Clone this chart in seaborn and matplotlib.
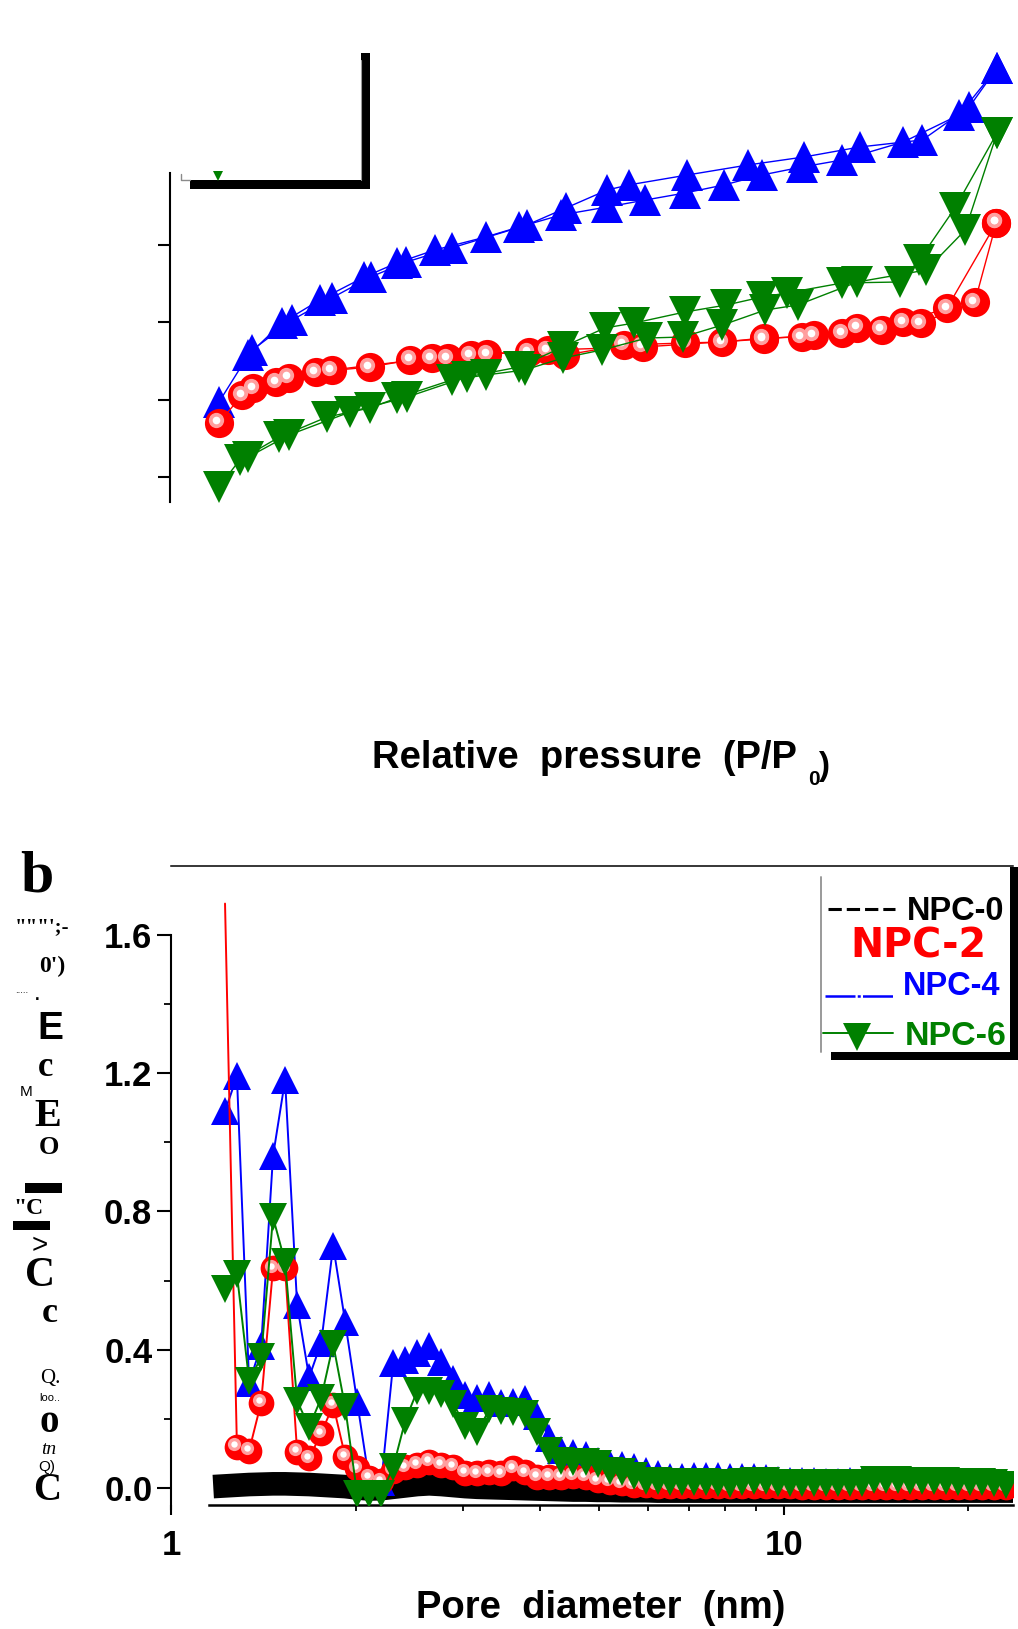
import matplotlib
matplotlib.use("Agg")
import matplotlib.pyplot as plt
import seaborn as sns
from matplotlib.lines import Line2D
from matplotlib.patches import Rectangle
from matplotlib.transforms import ScaledTranslation
from matplotlib.ticker import NullFormatter

# ---------------- Panel a : N2 sorption isotherms (relative pressure, volume) ----------------
p_npc4_ads = [0.010, 0.047, 0.089, 0.137, 0.193, 0.234, 0.282, 0.346, 0.388, 0.441,
              0.499, 0.547, 0.597, 0.646, 0.694, 0.744, 0.795, 0.872, 0.942, 0.990]
v_npc4_ads = [197.0, 257.8, 299.2, 329.0, 358.7, 376.9, 393.7, 410.5, 423.4, 439.0,
              449.3, 458.3, 467.4, 477.8, 490.7, 501.0, 510.1, 533.4, 568.3, 629.1]
p_npc4_des = [0.990, 0.955, 0.896, 0.817, 0.747, 0.676, 0.600, 0.526, 0.499, 0.447,
              0.398, 0.303, 0.246, 0.201, 0.152, 0.102, 0.052]
v_npc4_des = [629.1, 578.7, 536.0, 526.9, 514.0, 503.6, 490.7, 477.8, 471.3, 448.0,
              426.0, 396.3, 378.1, 358.7, 331.6, 303.1, 264.3]

p_npc2_ads = [0.010, 0.039, 0.082, 0.132, 0.200, 0.251, 0.298, 0.348, 0.400, 0.446,
              0.520, 0.597, 0.644, 0.696, 0.744, 0.795, 0.845, 0.894, 0.962, 0.989]
v_npc2_ads = [169.9, 206.1, 222.9, 235.8, 242.3, 251.4, 253.9, 259.1, 261.7, 257.8,
              270.8, 273.4, 274.6, 279.8, 281.1, 286.3, 290.2, 299.2, 326.4, 428.6]
p_npc2_des = [0.989, 0.927, 0.872, 0.814, 0.759, 0.696, 0.544, 0.424, 0.327, 0.278,
              0.152, 0.098, 0.053]
v_npc2_des = [428.6, 318.6, 300.5, 292.8, 283.7, 278.5, 268.2, 264.3, 257.8, 253.9,
              238.4, 228.1, 215.1]

p_npc6_ads = [0.010, 0.036, 0.086, 0.146, 0.200, 0.234, 0.303, 0.346, 0.395, 0.443,
              0.492, 0.549, 0.594, 0.644, 0.698, 0.739, 0.814, 0.901, 0.950, 0.990]
v_npc6_ads = [87.1, 122.0, 151.7, 177.6, 189.3, 202.2, 225.5, 232.0, 238.4, 253.9,
              264.3, 279.8, 281.1, 296.6, 316.0, 322.5, 352.3, 367.8, 419.5, 545.0]
p_npc6_des = [0.990, 0.937, 0.892, 0.868, 0.795, 0.725, 0.694, 0.649, 0.597, 0.533,
              0.496, 0.443, 0.388, 0.322, 0.247, 0.175, 0.098, 0.047]
v_npc6_des = [545.0, 448.0, 380.7, 352.3, 351.0, 338.0, 332.9, 322.5, 313.5, 299.2,
              292.8, 268.2, 242.3, 229.4, 203.5, 184.1, 154.3, 125.9]

iso_yticks = [100, 200, 300, 400]

# ---------------- Panel b : pore size distribution ----------------
pore_d = [1.225, 1.281, 1.341, 1.403, 1.467, 1.535, 1.606, 1.680, 1.758, 1.839,
          1.924, 2.012, 2.106, 2.203, 2.304, 2.411, 2.522, 2.638, 2.760, 2.888,
          3.021, 3.161, 3.306, 3.459, 3.619, 3.786, 3.961, 4.143, 4.335, 4.535,
          4.745, 4.964, 5.193, 5.433, 5.684, 5.947, 6.221, 6.509, 6.809, 7.124,
          7.453, 7.797, 8.157, 8.534, 8.928, 9.335, 9.766, 10.22, 10.69, 11.18,
          11.70, 12.24, 12.80, 13.40, 14.01, 14.66, 15.34, 16.05, 16.79, 17.56,
          18.37, 19.22, 20.11, 21.03, 22.00, 23.02]

psd_npc0 = [0.006, 0.008, 0.010, 0.011, 0.012, 0.012, 0.011, 0.010, 0.008, 0.006,
            0.004, 0.000, -0.003, -0.002, 0.002, 0.006, 0.010, 0.012, 0.010, 0.007,
            0.004, 0.002, 0.001, 0.000, -0.001, -0.002, -0.003, -0.004, -0.005, -0.006,
            -0.006, -0.007, -0.007, -0.008, -0.008, -0.008, -0.009, -0.009, -0.009, -0.009,
            -0.009, -0.009, -0.009, -0.009, -0.009, -0.009, -0.009, -0.009, -0.009, -0.009,
            -0.009, -0.009, -0.009, -0.009, -0.009, -0.009, -0.009, -0.009, -0.009, -0.009,
            -0.009, -0.009, -0.009, -0.009, -0.009, -0.009]

psd_npc2 = [1.690, 0.119, 0.108, 0.247, 0.635, 0.635, 0.105, 0.086, 0.158, 0.240,
            0.091, 0.057, 0.030, 0.020, 0.050, 0.060, 0.067, 0.076, 0.067, 0.062,
            0.044, 0.043, 0.046, 0.043, 0.057, 0.046, 0.033, 0.033, 0.033, 0.035,
            0.033, 0.023, 0.018, 0.014, 0.009, 0.008, 0.007, 0.007, 0.006, 0.006,
            0.006, 0.006, 0.005, 0.005, 0.005, 0.005, 0.005, 0.005, 0.004, 0.004,
            0.004, 0.004, 0.004, 0.004, 0.004, 0.004, 0.004, 0.003, 0.003, 0.003,
            0.003, 0.003, 0.003, 0.003, 0.003, 0.003]

psd_npc4 = [1.090, 1.190, 0.305, 0.410, 0.960, 1.180, 0.530, 0.320, 0.420, 0.700,
            0.480, 0.250, 0.020, 0.016, 0.360, 0.370, 0.390, 0.410, 0.364, 0.315,
            0.270, 0.260, 0.270, 0.246, 0.250, 0.257, 0.208, 0.145, 0.110, 0.100,
            0.095, 0.079, 0.069, 0.066, 0.061, 0.050, 0.040, 0.032, 0.031, 0.036,
            0.036, 0.036, 0.031, 0.031, 0.031, 0.029, 0.024, 0.021, 0.021, 0.019,
            0.016, 0.016, 0.021, 0.021, 0.015, 0.015, 0.014, 0.015, 0.015, 0.014,
            0.014, 0.013, 0.013, 0.012, 0.012, 0.012]

psd_npc6 = [0.575, 0.619, 0.310, 0.378, 0.783, 0.653, 0.252, 0.176, 0.260, 0.416,
            0.233, -0.017, -0.017, -0.017, 0.060, 0.195, 0.281, 0.281, 0.272, 0.243,
            0.180, 0.161, 0.228, 0.224, 0.219, 0.214, 0.161, 0.108, 0.079, 0.074,
            0.074, 0.069, 0.050, 0.045, 0.036, 0.021, 0.021, 0.016, 0.016, 0.016,
            0.016, 0.014, 0.012, 0.018, 0.020, 0.020, 0.014, 0.014, 0.014, 0.014,
            0.013, 0.013, 0.014, 0.014, 0.022, 0.022, 0.022, 0.021, 0.021, 0.020,
            0.019, 0.018, 0.017, 0.016, 0.015, 0.010]

psd_xticks = [1, 10]
psd_xticklabels = ["1", "10"]
psd_xminor = [2, 3, 4, 5, 6, 7, 8, 9, 20]
psd_yticks = [0.0, 0.4, 0.8, 1.2, 1.6]
psd_yticklabels = ["0.0", "0.4", "0.8", "1.2", "1.6"]
psd_yminor = [0.2, 0.6, 1.0, 1.4]

legend_labels = ["NPC-0", "NPC-2", "NPC-4", "NPC-6"]

# garbled vertical y-label fragments of panel b, as they appear
ylabel_bits = ['"""\';-', "0')", ".....", ".", "E", "c", "M", "E", "O", '"C', ">",
               "C", "c", "Q.", "loo..", "o", "tn", "Q)", "C"]

# ---------------- styling ----------------
sns.set_theme(style="white")
plt.rcParams["font.family"] = ["Liberation Sans", "DejaVu Sans"]
plt.rcParams["axes.unicode_minus"] = False
plt.rcParams["text.color"] = "black"
plt.rcParams["xtick.color"] = "black"
plt.rcParams["ytick.color"] = "black"
plt.rcParams["axes.labelcolor"] = "black"

BLUE, RED, GREEN = "#0000ff", "#ff0000", "#008000"
SERIF = ["Liberation Serif", "DejaVu Serif"]
SANS = ["Liberation Sans", "DejaVu Sans"]

W, H = 1018, 1629
fig = plt.figure(figsize=(W / 100, H / 100), dpi=100)
fig.patch.set_facecolor("white")


def fx(px):
    return px / W


def fy(py):
    return 1 - py / H


def frect(x0, y0, x1, y1, z=10, **kw):
    r = Rectangle((fx(x0), fy(y1)), fx(x1) - fx(x0), fy(y0) - fy(y1),
                  transform=fig.transFigure, zorder=z, **kw)
    fig.add_artist(r)


def fline(xs, ys, z=10, **kw):
    fig.add_artist(Line2D([fx(v) for v in xs], [fy(v) for v in ys],
                          transform=fig.transFigure, zorder=z, **kw))


def highlight(ax, x, y, z, big=10.5, small=5.0):
    off = ScaledTranslation(-0.025, 0.025, fig.dpi_scale_trans)
    ax.plot(x, y, ls="none", marker="o", ms=big, color="#ff9f9f", mew=0,
            transform=ax.transData + off, zorder=z)
    ax.plot(x, y, ls="none", marker="o", ms=small, color="white", mew=0,
            transform=ax.transData + off, zorder=z + 0.01)


# ================= Panel a =================
ax1 = fig.add_axes([fx(170), fy(502), fx(1018) - fx(170), fy(40) - fy(502)])
ax1.set_facecolor("none")
ax1.set_xlim(-0.0517, 1.0164)
ax1.set_ylim(67.7, 665.3)

for P, V in [(p_npc4_ads, v_npc4_ads), (p_npc4_des, v_npc4_des)]:
    sns.lineplot(x=P, y=V, sort=False, estimator=None, color=BLUE, lw=1.0,
                 marker="^", markersize=22.5, markeredgewidth=0,
                 markeredgecolor=BLUE, ax=ax1, zorder=2)
for P, V in [(p_npc2_ads, v_npc2_ads), (p_npc2_des, v_npc2_des)]:
    sns.lineplot(x=P, y=V, sort=False, estimator=None, color=RED, lw=1.0,
                 marker="o", markersize=21, markeredgewidth=0,
                 markeredgecolor=RED, ax=ax1, zorder=3)
    highlight(ax1, P, V, 3.1, big=11, small=5.5)
for P, V in [(p_npc6_ads, v_npc6_ads), (p_npc6_des, v_npc6_des)]:
    sns.lineplot(x=P, y=V, sort=False, estimator=None, color=GREEN, lw=1.0,
                 marker="v", markersize=22.5, markeredgewidth=0,
                 markeredgecolor=GREEN, ax=ax1, zorder=4)

for s in ["top", "right", "bottom"]:
    ax1.spines[s].set_visible(False)
ax1.spines["left"].set_color("black")
ax1.spines["left"].set_linewidth(1.5)
ax1.spines["left"].set_bounds(67.7, 493)
ax1.set_xticks([])
ax1.set_yticks(iso_yticks)
ax1.set_yticklabels([])
ax1.tick_params(axis="y", left=True, direction="out", length=8.6, width=1.5,
                color="black")
ax1.set_xlabel("")
ax1.set_ylabel("")

# remnant of the shadowed legend box of panel a
frect(361, 53, 370, 189, color="black", lw=0)
frect(190, 180, 370, 189, color="black", lw=0)
fline([181, 181, 190], [174, 180, 180], color="#8a8a8a", lw=1.0)
fline([360.5, 360.5], [60, 180], color="#9a9a9a", lw=0.8)
fig.add_artist(Line2D([fx(218)], [fy(176)], ls="none", marker="v", ms=7,
                      color=GREEN, mew=0, transform=fig.transFigure, zorder=11))

fig.text(fx(372), fy(768), "Relative  pressure  (P/P", fontsize=27.5,
         fontweight="bold", ha="left", va="baseline", color="black")
fig.text(fx(808), fy(785), "0", fontsize=15, fontweight="bold",
         ha="left", va="baseline", color="black")
fig.text(fx(818), fy(775), ")", fontsize=24, fontweight="bold",
         ha="left", va="baseline", color="black")

# ================= Panel b =================
ax2 = fig.add_axes([fx(171), fy(1505), fx(1013) - fx(171), fy(866) - fy(1505)])
ax2.set_facecolor("none")
ax2.set_xscale("log")
ax2.set_xlim(1.0, 23.64)
ax2.set_ylim(-0.0492, 1.7987)

sns.lineplot(x=pore_d, y=psd_npc0, sort=False, estimator=None, color="black",
             lw=17, solid_capstyle="projecting", ax=ax2, zorder=2)
sns.lineplot(x=pore_d, y=psd_npc4, sort=False, estimator=None, color=BLUE,
             lw=1.4, marker="^", markersize=20, markeredgewidth=0,
             markeredgecolor=BLUE, ax=ax2, zorder=3)
sns.lineplot(x=pore_d, y=psd_npc2, sort=False, estimator=None, color=RED,
             lw=1.4, marker="o", markersize=18.5, markeredgewidth=0,
             markeredgecolor=RED, markevery=list(range(1, len(pore_d))),
             ax=ax2, zorder=4)
highlight(ax2, pore_d[1:], psd_npc2[1:], 4.1, big=9.5, small=4.6)
sns.lineplot(x=pore_d, y=psd_npc6, sort=False, estimator=None, color=GREEN,
             lw=1.4, marker="v", markersize=20.5, markeredgewidth=0,
             markeredgecolor=GREEN, ax=ax2, zorder=5)

ax2.spines["right"].set_visible(False)
for s in ["top", "left", "bottom"]:
    ax2.spines[s].set_color("black")
ax2.spines["top"].set_linewidth(1.1)
ax2.spines["left"].set_linewidth(1.5)
ax2.spines["left"].set_bounds(-0.061, 1.6)
ax2.spines["bottom"].set_linewidth(1.8)
ax2.spines["bottom"].set_bounds(1.153, 23.64)

ax2.set_xticks(psd_xticks, labels=psd_xticklabels, fontsize=25, fontweight="bold",
               color="black")
ax2.set_xticks(psd_xminor, minor=True)
ax2.xaxis.set_minor_formatter(NullFormatter())
ax2.set_yticks(psd_yticks, labels=psd_yticklabels, fontsize=25, fontweight="bold",
               color="black")
ax2.set_yticks(psd_yminor, minor=True)
ax2.yaxis.set_minor_formatter(NullFormatter())
ax2.tick_params(axis="x", which="major", bottom=True, direction="out", length=7,
                width=1.5, pad=10, color="black")
ax2.tick_params(axis="x", which="minor", bottom=True, direction="out", length=4.5,
                width=1.3, color="black")
ax2.tick_params(axis="y", which="major", left=True, direction="out", length=10,
                width=1.5, pad=3.5, color="black")
ax2.tick_params(axis="y", which="minor", left=True, direction="out", length=5,
                width=1.3, color="black")
ax2.set_xlabel("")
ax2.set_ylabel("")

fig.text(fx(601), fy(1618), "Pore  diameter  (nm)", fontsize=27.5,
         fontweight="bold", ha="center", va="baseline", color="black")
fig.text(fx(20), fy(891), "b", fontsize=43, fontweight="bold", family=SERIF,
         ha="left", va="baseline", color="black")

# ---- legend of panel b (shadowed box) ----
frect(821, 868, 1010, 1052, z=8, color="white", lw=0)
fline([821, 821], [877, 1052], z=9, color="#9a9a9a", lw=1.4)
fline([828, 895], [909, 909], z=9, color="black", lw=2.2, dashes=(4.35, 1.63))
fline([825, 893], [996, 996], z=9, color=BLUE, lw=1.8, dashes=(12, 0.9, 1.2, 0.9))
fline([823, 893], [1033, 1033], z=9, color=GREEN, lw=1.4)
fig.add_artist(Line2D([fx(857)], [fy(1037)], ls="none", marker="v", ms=20,
                      color=GREEN, mew=0, transform=fig.transFigure, zorder=9.5))
fig.text(fx(907), fy(920), legend_labels[0], fontsize=23.5, fontweight="bold",
         color="black", family=SANS, zorder=10)
fig.text(fx(850), fy(957), legend_labels[1], fontsize=28.5, fontweight="bold",
         color=RED, family=["DejaVu Sans"], zorder=10)
fig.text(fx(903), fy(995), legend_labels[2], fontsize=23.5, fontweight="bold",
         color=BLUE, family=SANS, zorder=10)
fig.text(fx(905), fy(1045), legend_labels[3], fontsize=24.5, fontweight="bold",
         color=GREEN, family=SANS, zorder=10)
frect(831, 1052, 1018, 1060, z=12, color="black", lw=0)
frect(1010, 867, 1018, 1060, z=12, color="black", lw=0)

# ---- garbled y label fragments ----
bit_specs = [
    (42, 927, 15, SERIF, "bold", "normal"),
    (52, 966, 17, SERIF, "bold", "normal"),
    (22, 990, 7, SANS, "normal", "normal"),
    (37, 996, 12, SANS, "bold", "normal"),
    (50, 1029, 28, SANS, "bold", "normal"),
    (46, 1068, 25, SERIF, "bold", "normal"),
    (26, 1092, 11, SANS, "normal", "normal"),
    (48, 1117, 29, SERIF, "bold", "normal"),
    (49, 1147, 19, SERIF, "bold", "normal"),
    (28, 1208, 17, SERIF, "bold", "normal"),
    (40, 1246, 20, SANS, "normal", "normal"),
    (40, 1276, 30, SERIF, "bold", "normal"),
    (50, 1314, 26, SERIF, "bold", "normal"),
    (50, 1378, 15, SERIF, "normal", "normal"),
    (50, 1398, 8, SANS, "normal", "normal"),
    (49, 1423, 28, SERIF, "bold", "normal"),
    (49, 1450, 14, SERIF, "normal", "italic"),
    (47, 1467, 11, SANS, "normal", "normal"),
    (47, 1491, 28, SERIF, "bold", "normal"),
]
for txt, (x, y, size, fam, wt, st) in zip(ylabel_bits, bit_specs):
    fig.text(fx(x), fy(y), txt, fontsize=size, family=fam, fontweight=wt,
             fontstyle=st, ha="center", va="center", color="black")
frect(25, 1183, 62, 1193, color="black", lw=0)
frect(13, 1221, 50, 1230, color="black", lw=0)

fig.savefig("out.png", dpi=100, facecolor="white")
